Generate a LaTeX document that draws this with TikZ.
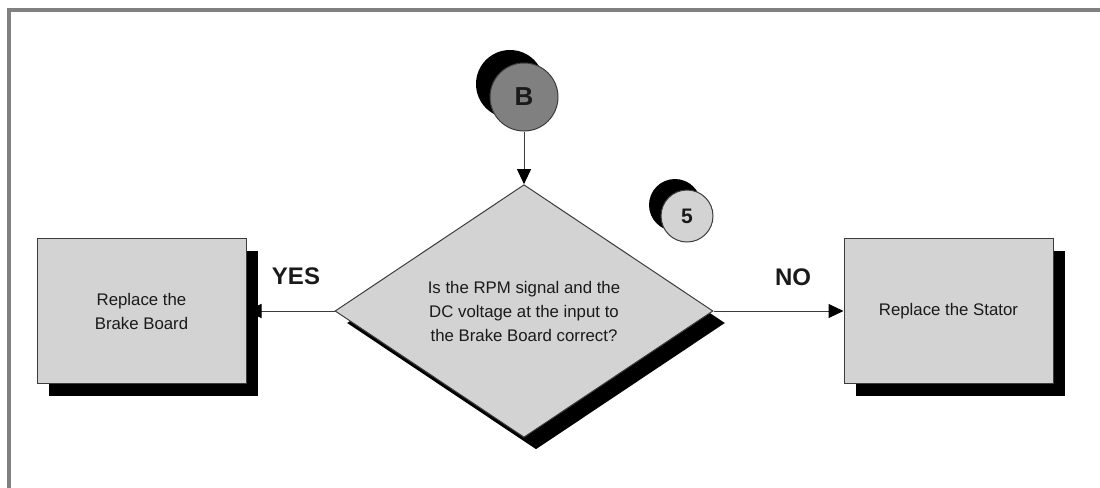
\documentclass[tikz,border=0pt]{standalone}
\usepackage{fontspec}
\setmainfont{Liberation Sans}
\usetikzlibrary{arrows.meta,shapes.geometric,shadows}
\definecolor{ink}{HTML}{1A1A1A}
\definecolor{lineGrey}{HTML}{3C3C3C}
\definecolor{frameGrey}{HTML}{808080}
\definecolor{boxFill}{HTML}{D3D3D3}
\definecolor{markFill}{HTML}{808080}
\tikzset{>={Triangle[length=7.5pt,width=7pt,fill=black,color=black]},
  actbox/.style={draw=lineGrey,line width=0.5pt,fill=boxFill,minimum width=104.5pt,
    minimum height=72.5pt,align=center,text=ink,font=\fontsize{8.4}{12}\selectfont,
    drop shadow={shadow xshift=6pt,shadow yshift=-6pt,fill=black,opacity=1}},
  askbox/.style={diamond,draw=lineGrey,line width=0.5pt,fill=boxFill,minimum width=189pt,
    minimum height=126pt,inner sep=0pt,align=center,text=ink,font=\fontsize{8.4}{12}\selectfont,
    drop shadow={shadow xshift=6pt,shadow yshift=-6pt,fill=black,opacity=1}},
  bigmark/.style={circle,draw=lineGrey,line width=0.5pt,fill=markFill,minimum size=34pt,
    inner sep=0pt,text=ink,font=\fontsize{13}{13}\selectfont\bfseries,
    drop shadow={shadow xshift=-7pt,shadow yshift=6.5pt,fill=black,opacity=1}},
  stepmark/.style={circle,draw=lineGrey,line width=0.5pt,fill=boxFill,minimum size=26pt,
    inner sep=0pt,text=ink,font=\fontsize{10.5}{10.5}\selectfont\bfseries,
    drop shadow={shadow xshift=-6pt,shadow yshift=5.5pt,fill=black,opacity=1}},
  anslab/.style={font=\fontsize{12}{12}\selectfont\bfseries,text=ink},
  flow/.style={->,draw=lineGrey,line width=0.5pt}}

\begin{document}
\begin{tikzpicture}[x=0.5pt,y=-0.5pt]
\useasboundingbox (0,0) rectangle (1100,488);
\draw[frameGrey,line width=2pt] (9,488) -- (9,10) -- (1100,10);
\node[bigmark] (connB) at (524,97) {B};
\node[stepmark] (step5) at (687,216) {5};
\node[askbox] (ask) at (524,311) {Is the RPM signal and the\\DC voltage at the input to\\the Brake Board correct?};
\node[actbox] (brake) at (141.5,311) {Replace the\\Brake Board};
\node[actbox] (stator) at (948.5,311) {Replace the Stator};
\draw[flow] (connB) -- (ask.north);
\draw[flow] (ask.west) -- (brake.east);
\draw[flow] (ask.east) -- (stator.west);
\node[anslab] at (296,276) {YES};
\node[anslab] at (793,277) {NO};
\end{tikzpicture}
\end{document}
